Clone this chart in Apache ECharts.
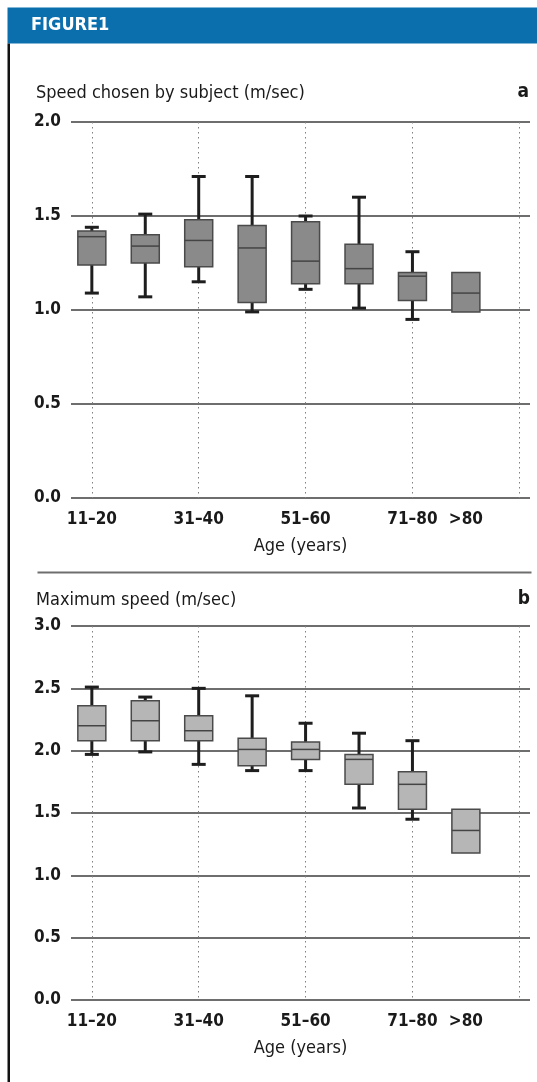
<!DOCTYPE html>
<html>
<head>
<meta charset="utf-8">
<script src="https://cdn.jsdelivr.net/npm/echarts@6/dist/echarts.min.js"></script>
<style>
  html, body { margin: 0; padding: 0; background: #fff; }
  #chart { width: 537px; height: 1082px; }
</style>
</head>
<body>
<div id="chart"></div>
<script>
// age groups, one box per group
const ageGroups = ['11–20', '21–30', '31–40', '41–50', '51–60', '61–70', '71–80', '>80']
// which groups get a label under the axis
const labelledGroups = [0, 2, 4, 6, 7]
// dotted vertical guides (group index)
const guideLines = [0, 2, 4, 6, 8]

// panel a: speed chosen by subject, [low, q1, median, q3, high]
const chosenSpeed = [
  [1.09, 1.24, 1.39, 1.42, 1.44],
  [1.07, 1.25, 1.34, 1.40, 1.51],
  [1.15, 1.23, 1.37, 1.48, 1.71],
  [0.99, 1.04, 1.33, 1.45, 1.71],
  [1.11, 1.14, 1.26, 1.47, 1.50],
  [1.01, 1.14, 1.22, 1.35, 1.60],
  [0.95, 1.05, 1.18, 1.20, 1.31],
  [0.99, 0.99, 1.09, 1.20, 1.20]
]
// panel b: maximum speed, [low, q1, median, q3, high]
const maxSpeed = [
  [1.97, 2.08, 2.20, 2.36, 2.51],
  [1.99, 2.08, 2.24, 2.40, 2.43],
  [1.89, 2.08, 2.16, 2.28, 2.50],
  [1.84, 1.88, 2.01, 2.10, 2.44],
  [1.84, 1.93, 2.01, 2.07, 2.22],
  [1.54, 1.73, 1.93, 1.97, 2.14],
  [1.45, 1.53, 1.73, 1.83, 2.08],
  [1.18, 1.18, 1.36, 1.53, 1.53]
]

const FONT = "'DejaVu Sans Condensed', 'Liberation Sans Narrow', sans-serif"

const chart = echarts.init(document.getElementById('chart'), null, { renderer: 'canvas' })

function toRows(stats) {
  return stats.map((s, i) => [i].concat(s))
}

function renderBox(fill) {
  return function (params, api) {
    const x = api.value(0)
    const pLo = api.coord([x, api.value(1)])
    const pQ1 = api.coord([x, api.value(2)])
    const pMd = api.coord([x, api.value(3)])
    const pQ3 = api.coord([x, api.value(4)])
    const pHi = api.coord([x, api.value(5)])
    const cx = pMd[0]
    const half = 14
    const cap = 7
    const whisker = { stroke: '#1e1e1e', lineWidth: 3 }
    const children = []
    if (pHi[1] < pQ3[1] - 0.5) {
      children.push({ type: 'line', shape: { x1: cx, y1: pQ3[1], x2: cx, y2: pHi[1] }, style: whisker })
      children.push({ type: 'line', shape: { x1: cx - cap, y1: pHi[1], x2: cx + cap, y2: pHi[1] }, style: whisker })
    }
    if (pLo[1] > pQ1[1] + 0.5) {
      children.push({ type: 'line', shape: { x1: cx, y1: pQ1[1], x2: cx, y2: pLo[1] }, style: whisker })
      children.push({ type: 'line', shape: { x1: cx - cap, y1: pLo[1], x2: cx + cap, y2: pLo[1] }, style: whisker })
    }
    children.push({
      type: 'rect',
      shape: { x: cx - half, y: pQ3[1], width: half * 2, height: pQ1[1] - pQ3[1] },
      style: { fill: fill, stroke: '#4a4a4a', lineWidth: 1.5 }
    })
    children.push({
      type: 'line',
      shape: { x1: cx - half, y1: pMd[1], x2: cx + half, y2: pMd[1] },
      style: { stroke: '#444', lineWidth: 1.5 }
    })
    return { type: 'group', children: children }
  }
}

function xAxisFor(gridIndex) {
  return {
    type: 'value',
    gridIndex: gridIndex,
    min: -0.39,
    max: 8.2,
    name: 'Age (years)',
    nameLocation: 'middle',
    nameGap: 39,
    nameTextStyle: { fontFamily: FONT, fontSize: 18, color: '#1a1a1a' },
    axisLine: { show: false },
    axisTick: { show: false, customValues: guideLines },
    axisLabel: {
      customValues: labelledGroups,
      margin: 13,
      fontFamily: FONT,
      fontSize: 17,
      fontWeight: 'bold',
      color: '#1a1a1a',
      formatter: (v) => ageGroups[Math.round(v)]
    },
    splitLine: { show: true, lineStyle: { color: '#808080', width: 1, type: [1.5, 3.5] } }
  }
}

function yAxisFor(gridIndex, max) {
  return {
    type: 'value',
    gridIndex: gridIndex,
    min: 0,
    max: max,
    interval: 0.5,
    axisLine: { show: false },
    axisTick: { show: false },
    axisLabel: {
      margin: 10,
      fontFamily: FONT,
      fontSize: 17,
      fontWeight: 'bold',
      color: '#1a1a1a',
      formatter: (v) => v.toFixed(1)
    },
    splitLine: { show: true, lineStyle: { color: '#6e6e6e', width: 2 } }
  }
}

const titleStyle = { fontFamily: FONT, fontSize: 18, fontWeight: 'normal', color: '#1a1a1a' }
const letterStyle = { fontFamily: FONT, fontSize: 19, fontWeight: 'bold', color: '#1a1a1a' }

chart.setOption({
  animation: false,
  backgroundColor: '#fff',
  title: [
    { text: 'Speed chosen by subject (m/sec)', left: 36, top: 84, padding: 0, textStyle: titleStyle },
    { text: 'a', right: 8, top: 83, padding: 0, textStyle: letterStyle },
    { text: 'Maximum speed (m/sec)', left: 36, top: 591, padding: 0, textStyle: titleStyle },
    { text: 'b', right: 7, top: 590, padding: 0, textStyle: letterStyle }
  ],
  grid: [
    { left: 71, right: 7, top: 122, bottom: 584 },
    { left: 71, right: 7, top: 626, bottom: 82 }
  ],
  xAxis: [xAxisFor(0), xAxisFor(1)],
  yAxis: [yAxisFor(0, 2), yAxisFor(1, 3)],
  graphic: [
    { type: 'rect', left: 7.5, top: 7.5, shape: { width: 530, height: 36 }, style: { fill: '#0b6fae' } },
    {
      type: 'text', left: 31, top: 16,
      style: { text: 'FIGURE1', fill: '#fff', font: 'bold 18px ' + FONT }
    },
    { type: 'rect', left: 7.5, top: 43.5, shape: { width: 2.5, height: 1040 }, style: { fill: '#111' } },
    {
      type: 'line', left: 35, top: 570,
      shape: { x1: 0, y1: 0, x2: 494, y2: 0 },
      style: { stroke: '#6e6e6e', lineWidth: 2 }
    }
  ],
  series: [
    {
      type: 'custom',
      xAxisIndex: 0,
      yAxisIndex: 0,
      renderItem: renderBox('#8a8a8a'),
      encode: { x: 0, y: [1, 2, 3, 4, 5] },
      data: toRows(chosenSpeed),
      z: 5
    },
    {
      type: 'custom',
      xAxisIndex: 1,
      yAxisIndex: 1,
      renderItem: renderBox('#b6b6b6'),
      encode: { x: 0, y: [1, 2, 3, 4, 5] },
      data: toRows(maxSpeed),
      z: 5
    }
  ]
})
</script>
</body>
</html>
